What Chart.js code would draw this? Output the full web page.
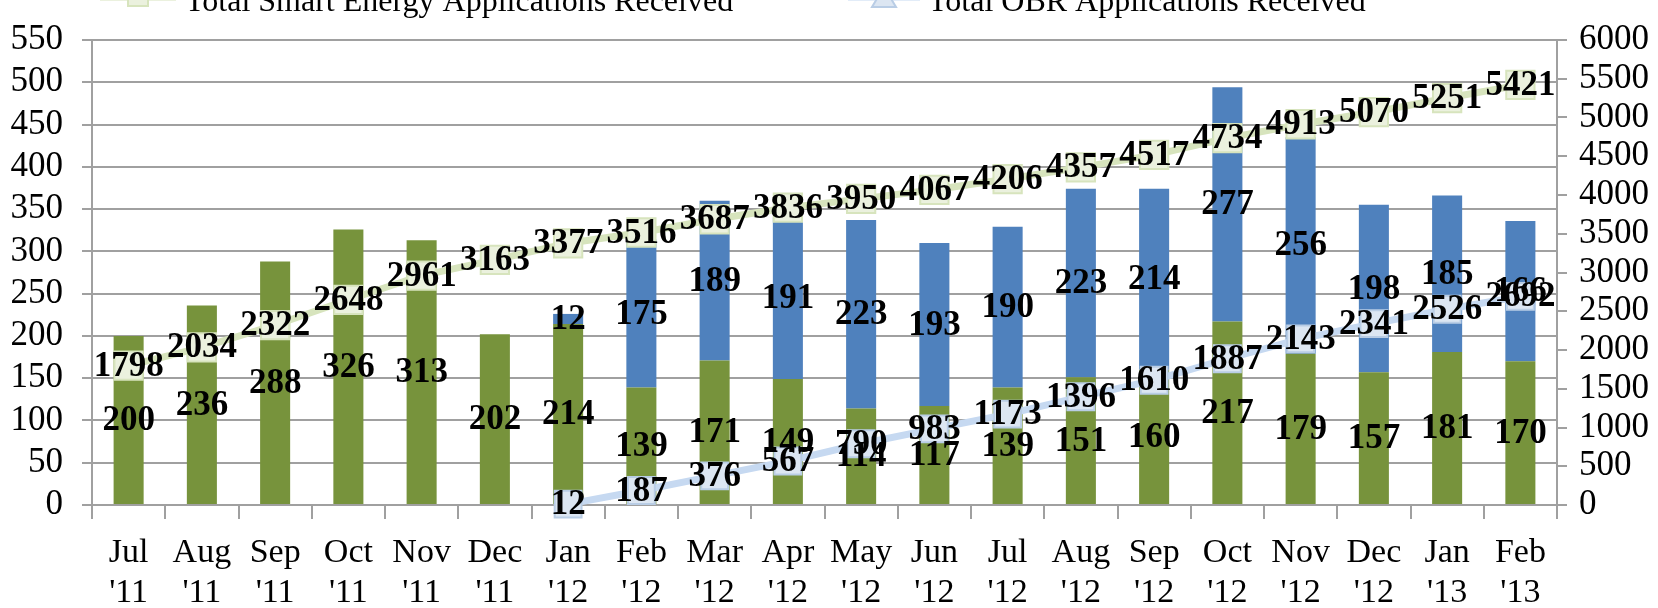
<!DOCTYPE html>
<html>
<head>
<meta charset="utf-8">
<title>Smart Energy and OBR Applications</title>
<script src="https://cdn.jsdelivr.net/npm/chart.js@4.4.1/dist/chart.umd.min.js"></script>
<style>
    html, body { margin: 0; padding: 0; background: #fff; }
    #wrap { width: 1658px; height: 608px; overflow: hidden; }
</style>
</head>
<body>
<div id="wrap">
    <canvas id="appsChart" width="1658" height="608"></canvas>
</div>
<script>
let months = [
    ['Jul', "'11"], ['Aug', "'11"], ['Sep', "'11"], ['Oct', "'11"], ['Nov', "'11"], ['Dec', "'11"],
    ['Jan', "'12"], ['Feb', "'12"], ['Mar', "'12"], ['Apr', "'12"], ['May', "'12"], ['Jun', "'12"],
    ['Jul', "'12"], ['Aug', "'12"], ['Sep', "'12"], ['Oct', "'12"], ['Nov', "'12"], ['Dec', "'12"],
    ['Jan', "'13"], ['Feb', "'13"]
];

// monthly applications (left axis)
let smartMonthly = [200, 236, 288, 326, 313, 202, 214, 139, 171, 149, 114, 117, 139, 151, 160, 217, 179, 157, 181, 170];
let obrMonthly = [null, null, null, null, null, null, 12, 175, 189, 191, 223, 193, 190, 223, 214, 277, 256, 198, 185, 166];

// running totals (right axis)
let smartTotal = [1798, 2034, 2322, 2648, 2961, 3163, 3377, 3516, 3687, 3836, 3950, 4067, 4206, 4357, 4517, 4734, 4913, 5070, 5251, 5421];
let obrTotal = [null, null, null, null, null, null, 12, 187, 376, 567, 790, 983, 1173, 1396, 1610, 1887, 2143, 2341, 2526, 2692];

let leftMax = 550, leftStep = 50;
let rightMax = 6000, rightStep = 500;

let legendNames = ['Total Smart Energy Applications Received', 'Total OBR Applications Received'];

Chart.defaults.font.family = '"Liberation Serif", "Times New Roman", serif';
Chart.defaults.color = '#000';

const gridGray = '#a0a0a0';

// value labels centred on each bar segment and each line point
const valueLabels = {
    id: 'valueLabels',
    afterDatasetsDraw(chart) {
        let ctx = chart.ctx;
        ctx.save();
        ctx.font = 'bold 35px "Liberation Serif"';
        ctx.fillStyle = '#000';
        ctx.textAlign = 'center';
        ctx.textBaseline = 'middle';
        chart.data.datasets.forEach((ds, i) => {
            let meta = chart.getDatasetMeta(i);
            meta.data.forEach((el, j) => {
                let v = ds.data[j];
                if (v === null || v === undefined) return;
                let y = meta.type === 'bar' ? (el.y + el.base) / 2 : el.y;
                ctx.fillText(String(v), el.x, y + 1);
            });
        });
        ctx.restore();
    }
};

// legend row, mostly cut off by the top edge as in the original
const topLegend = {
    id: 'topLegend',
    afterDraw(chart) {
        let ctx = chart.ctx;
        ctx.save();
        // smart energy: line + square
        ctx.strokeStyle = '#d7e4bd';
        ctx.lineWidth = 7;
        ctx.beginPath();
        ctx.moveTo(100, -3);
        ctx.lineTo(176, -3);
        ctx.stroke();
        ctx.fillStyle = '#ebf1de';
        ctx.strokeStyle = '#d7e4bd';
        ctx.lineWidth = 2;
        ctx.fillRect(128, -15, 20, 21);
        ctx.strokeRect(128, -15, 20, 21);
        // obr: line + triangle
        ctx.strokeStyle = '#c6d9f1';
        ctx.lineWidth = 7;
        ctx.beginPath();
        ctx.moveTo(848, -3);
        ctx.lineTo(920, -3);
        ctx.stroke();
        ctx.fillStyle = '#dce6f2';
        ctx.strokeStyle = '#b9cde5';
        ctx.lineWidth = 2;
        ctx.beginPath();
        ctx.moveTo(884, -13);
        ctx.lineTo(896, 7);
        ctx.lineTo(872, 7);
        ctx.closePath();
        ctx.fill();
        ctx.stroke();

        ctx.font = '32px "Liberation Serif"';
        ctx.fillStyle = '#000';
        ctx.textAlign = 'left';
        ctx.textBaseline = 'alphabetic';
        ctx.fillText(legendNames[0], 185, 11);
        ctx.fillText(legendNames[1], 928, 11);
        ctx.restore();
    }
};

let ctx = document.getElementById('appsChart').getContext('2d');

let appsChart = new Chart(ctx, {
    type: 'bar',
    data: {
        labels: months,
        datasets: [
            {
                type: 'line',
                label: legendNames[0],
                data: smartTotal,
                yAxisID: 'y1',
                order: 0,
                clip: false,
                borderColor: '#d7e4bd',
                borderWidth: 7,
                pointStyle: 'rect',
                pointRadius: 20,
                pointBackgroundColor: '#ebf1de',
                pointBorderColor: '#d7e4bd',
                pointBorderWidth: 2,
                tension: 0
            },
            {
                type: 'line',
                label: legendNames[1],
                data: obrTotal,
                yAxisID: 'y1',
                order: 0,
                clip: false,
                borderColor: '#c6d9f1',
                borderWidth: 7,
                pointStyle: 'rect',
                pointRadius: 19,
                pointBackgroundColor: '#dce6f2',
                pointBorderColor: '#b9cde5',
                pointBorderWidth: 2,
                tension: 0
            },
            {
                label: 'Smart Energy Applications',
                data: smartMonthly,
                yAxisID: 'y',
                stack: 'apps',
                order: 1,
                backgroundColor: '#77933c',
                barPercentage: 0.41,
                categoryPercentage: 1
            },
            {
                label: 'OBR Applications',
                data: obrMonthly,
                yAxisID: 'y',
                stack: 'apps',
                order: 1,
                backgroundColor: '#4f81bd',
                barPercentage: 0.41,
                categoryPercentage: 1
            }
        ]
    },
    options: {
        responsive: false,
        animation: false,
        devicePixelRatio: 1,
        layout: { padding: { top: 21, left: 0, right: 0, bottom: 0 } },
        plugins: {
            legend: { display: false },
            tooltip: { enabled: false }
        },
        scales: {
            x: {
                stacked: true,
                afterFit: s => { s.height = 103; },
                grid: {
                    offset: true,
                    drawOnChartArea: false,
                    drawTicks: true,
                    tickLength: 14,
                    color: gridGray,
                    lineWidth: 2
                },
                border: { color: gridGray, width: 2 },
                ticks: {
                    font: { size: 34, lineHeight: 1.15 },
                    padding: 15,
                    maxRotation: 0,
                    autoSkip: false
                }
            },
            y: {
                stacked: true,
                position: 'left',
                min: 0,
                max: leftMax,
                afterFit: s => { s.width = 92; },
                grid: {
                    color: gridGray,
                    lineWidth: 2,
                    tickLength: 10
                },
                border: { color: gridGray, width: 2 },
                ticks: {
                    stepSize: leftStep,
                    autoSkip: false,
                    font: { size: 35 },
                    padding: 19,
                    callback: v => String(v)
                }
            },
            y1: {
                position: 'right',
                min: 0,
                max: rightMax,
                afterFit: s => { s.width = 101; },
                grid: {
                    drawOnChartArea: false,
                    color: gridGray,
                    lineWidth: 2,
                    tickLength: 10
                },
                border: { color: gridGray, width: 2 },
                ticks: {
                    stepSize: rightStep,
                    autoSkip: false,
                    font: { size: 35 },
                    padding: 12,
                    callback: v => String(v)
                }
            }
        }
    },
    plugins: [valueLabels, topLegend]
});
</script>
</body>
</html>
